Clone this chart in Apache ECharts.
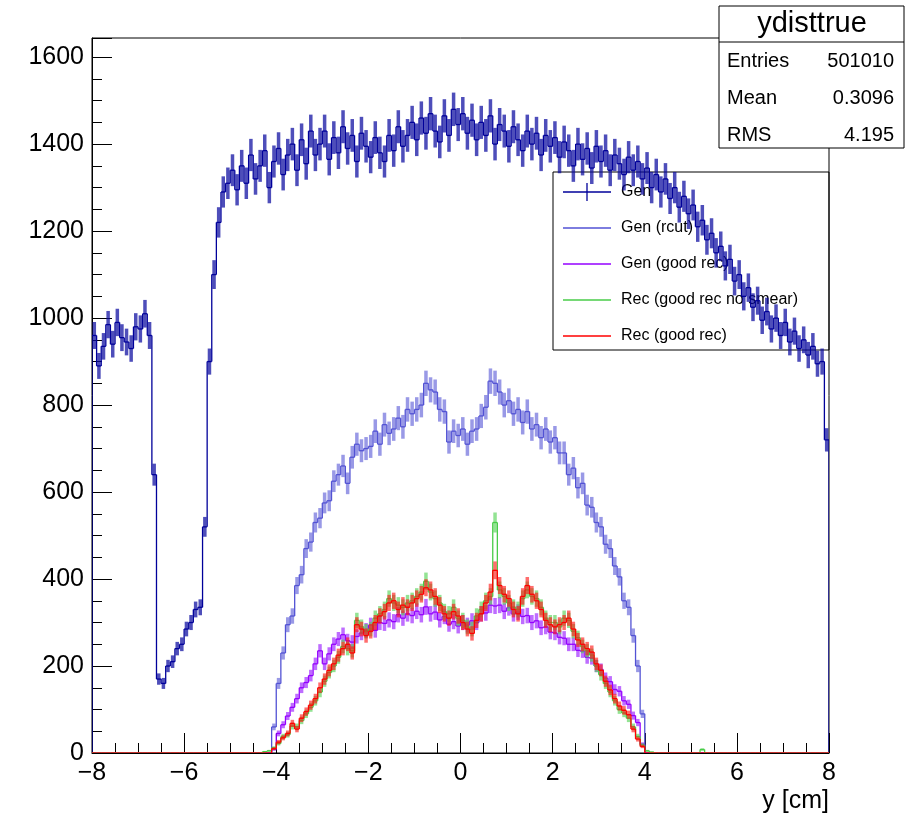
<!DOCTYPE html>
<html>
<head>
<meta charset="utf-8">
<script src="https://cdn.jsdelivr.net/npm/echarts@6/dist/echarts.min.js"></script>
<style>
  html, body { margin: 0; padding: 0; background: #fff; }
  #chart { width: 907px; height: 821px; }
</style>
</head>
<body>
<div id="chart"></div>
<script>
const FONT = '"Liberation Sans", Arial, Helvetica, sans-serif';

// 160 bins of 0.1 cm from -8 to 8
const X_MIN = -8;
const X_MAX = 8;
const BIN_WIDTH = 0.1;
const Y_MAX = 1644;

const genValues = [
  960, 890, 935, 985, 940, 990, 955, 945, 930, 980,
  975, 1010, 960, 640, 170, 160, 200, 210, 240, 250,
  285, 300, 330, 335, 520, 900, 1100, 1220, 1290, 1310,
  1340, 1295, 1350, 1310, 1375, 1320, 1350, 1385, 1300, 1360,
  1390, 1330, 1375, 1400, 1340, 1410, 1355, 1430, 1375, 1400,
  1430, 1365, 1415, 1380, 1440, 1390, 1420, 1360, 1425, 1395,
  1370, 1415, 1380, 1360, 1420, 1385, 1440, 1395, 1420, 1450,
  1410, 1460, 1425, 1470, 1430, 1405, 1465, 1420, 1480, 1445,
  1470, 1425, 1455, 1410, 1450, 1420, 1465, 1400, 1445, 1430,
  1395, 1440, 1410, 1385, 1430, 1400, 1425, 1375, 1420, 1395,
  1415, 1370, 1405, 1385, 1350, 1400, 1365, 1390, 1345, 1395,
  1360, 1385, 1340, 1375, 1355, 1330, 1370, 1340, 1360, 1320,
  1345, 1300, 1330, 1290, 1320, 1275, 1300, 1255, 1280, 1240,
  1260, 1210, 1225, 1180, 1195, 1150, 1165, 1120, 1135, 1085,
  1100, 1050, 1070, 1025, 1040, 995, 1015, 975, 1000, 960,
  990, 945, 970, 930, 950, 915, 935, 895, 900, 720
];

const genRcutValues = [
  0, 0, 0, 0, 0, 0, 0, 0, 0, 0,
  0, 0, 0, 0, 0, 0, 0, 0, 0, 0,
  0, 0, 0, 0, 0, 0, 0, 0, 0, 0,
  0, 0, 0, 0, 0, 0, 0, 0, 0,
  60, 160, 230, 295, 315, 385, 410, 470, 485, 530,
  540, 575, 580, 625, 640, 660, 620, 680, 710, 695,
  700, 705, 740, 710, 755, 735, 745, 770, 750, 790,
  780, 790, 800, 850, 835, 830, 790, 785, 715, 740,
  730, 745, 710, 740, 745, 775, 795, 855, 850, 830,
  800, 810, 780, 790, 760, 785, 745, 755, 725, 745,
  715, 725, 690, 690, 640, 655, 610, 620, 570, 565,
  530, 520, 480, 470, 430, 405, 350, 335, 270, 200,
  90, 0,
  0, 0, 0, 0, 0, 0, 0, 0, 0, 0,
  0, 0, 0, 0, 0, 0, 0, 0, 0, 0,
  0, 0, 0, 0, 0, 0, 0, 0, 0, 0,
  0, 0, 0, 0, 0, 0, 0, 0, 0
];

const genGoodRecValues = [
  0, 0, 0, 0, 0, 0, 0, 0, 0, 0,
  0, 0, 0, 0, 0, 0, 0, 0, 0, 0,
  0, 0, 0, 0, 0, 0, 0, 0, 0, 0,
  0, 0, 0, 0, 0, 0, 0, 0, 0,
  8, 45, 65, 85, 105, 125, 150, 162, 178, 205,
  235, 205, 228, 250, 262, 272, 258, 255, 268, 276,
  282, 294, 282, 300, 298, 306, 302, 318, 310, 320,
  316, 326, 318, 336, 320, 324, 306, 314, 296, 302,
  292, 300, 294, 304, 300, 320, 322, 340, 338, 340,
  326, 334, 320, 324, 314, 316, 300, 304, 288, 290,
  278, 276, 266, 264, 250, 250, 236, 234, 220, 218,
  200, 192, 172, 164, 146, 142, 120, 112, 86, 70,
  20, 0,
  0, 0, 0, 0, 0, 0, 0, 0, 0, 0,
  0, 0, 0, 0, 0, 0, 0, 0, 0, 0,
  0, 0, 0, 0, 0, 0, 0, 0, 0, 0,
  0, 0, 0, 0, 0, 0, 0, 0, 0
];

const recNoSmearValues = [
  0, 0, 0, 0, 0, 0, 0, 0, 0, 0,
  0, 0, 0, 0, 0, 0, 0, 0, 0, 0,
  0, 0, 0, 0, 0, 0, 0, 0, 0, 0,
  0, 0, 0, 0, 0, 0, 0, 3, 5,
  12, 22, 38, 42, 62, 60, 75, 90, 105, 120,
  140, 165, 185, 200, 220, 245, 240, 235, 305, 290,
  280, 285, 310, 320, 330, 355, 345, 340, 335, 345,
  350, 360, 370, 395, 370, 355, 345, 325, 320, 335,
  310, 305, 290, 285, 315, 330, 350, 360, 530, 375,
  360, 345, 335, 330, 355, 375, 360, 355, 335, 310,
  300, 300, 290, 310, 305, 280, 265, 245, 235, 225,
  200, 180, 160, 140, 120, 100, 92, 80, 60, 38,
  18, 5,
  2, 0, 0, 0, 0, 0, 0, 0, 0, 0,
  0, 8, 0, 0, 0, 0, 0, 0, 0, 0,
  0, 0, 0, 0, 0, 0, 0, 0, 0, 0,
  0, 0, 0, 0, 0, 0, 0, 0, 0
];

const recGoodRecValues = [
  0, 0, 0, 0, 0, 0, 0, 0, 0, 0,
  0, 0, 0, 0, 0, 0, 0, 0, 0, 0,
  0, 0, 0, 0, 0, 0, 0, 0, 0, 0,
  0, 0, 0, 0, 0, 0, 0, 0, 0,
  10, 25, 35, 45, 68, 55, 80, 95, 110, 125,
  150, 170, 190, 205, 225, 240, 250, 230, 295, 285,
  270, 280, 300, 315, 325, 345, 350, 330, 340, 335,
  345, 355, 365, 380, 375, 360, 340, 320, 310, 325,
  315, 300, 285, 275, 305, 320, 345, 370, 420, 385,
  365, 355, 330, 320, 360, 385, 365, 350, 330, 305,
  295, 290, 295, 300, 310, 285, 260, 250, 240, 232,
  205, 190, 165, 145, 125, 108, 98, 88, 55, 32,
  15, 0,
  0, 0, 0, 0, 0, 0, 0, 0, 0, 0,
  0, 0, 0, 0, 0, 0, 0, 0, 0, 0,
  0, 0, 0, 0, 0, 0, 0, 0, 0, 0,
  0, 0, 0, 0, 0, 0, 0, 0, 0
];

const statsTitle = 'ydisttrue';
const statsLabels = ['Entries', 'Mean', 'RMS'];
const statsValues = ['501010', '0.3096', '4.195'];

const HISTS = [
  { name: 'Gen', values: genValues, color: '#00009a', bar: 'rgba(10,10,160,0.72)', marker: true },
  { name: 'Gen (rcut)', values: genRcutValues, color: '#5252d4', bar: 'rgba(90,90,215,0.62)' },
  { name: 'Gen (good rec)', values: genGoodRecValues, color: '#9400ff', bar: 'rgba(150,20,255,0.62)' },
  { name: 'Rec (good rec no smear)', values: recNoSmearValues, color: '#48cc48', bar: 'rgba(80,210,80,0.62)' },
  { name: 'Rec (good rec)', values: recGoodRecValues, color: '#ff0000', bar: 'rgba(255,20,20,0.62)' },
];

function seg(p, q, stroke, width) {
  return {
    type: 'line',
    shape: { x1: p[0], y1: p[1], x2: q[0], y2: q[1] },
    style: { stroke, lineWidth: width },
  };
}

// [centre, content, previous content, last-bin flag]
function binData(values) {
  return values.map((v, i) => [
    X_MIN + (i + 0.5) * BIN_WIDTH,
    v,
    i ? values[i - 1] : 0,
    i === values.length - 1 ? 1 : 0,
  ]);
}

// ROOT-like histogram: bin-wide step, vertical joins and sqrt(N) error bars
function histSeries(h) {
  return {
    type: 'custom',
    name: h.name,
    clip: true,
    silent: true,
    data: binData(h.values),
    renderItem(params, api) {
      const c = api.value(0);
      const v = api.value(1);
      const prev = api.value(2);
      const half = BIN_WIDTH / 2;
      const a = api.coord([c - half, v]);
      const b = api.coord([c + half, v]);
      const p = api.coord([c - half, prev]);
      const err = Math.sqrt(v);
      const children = [];
      if (err > 0) {
        children.push(seg(api.coord([c, v + err]), api.coord([c, Math.max(0, v - err)]), h.bar, 3.5));
      }
      children.push(seg(p, a, h.color, 1.3));
      children.push(seg(a, b, h.color, 1.3));
      if (api.value(3)) children.push(seg(b, api.coord([c + half, 0]), h.color, 1.3));
      return { type: 'group', children };
    },
  };
}

const legendTop = 192;
const legendStep = 36;
const legendGraphics = [
  {
    type: 'rect', z: 1,
    shape: { x: 553, y: 172, width: 276, height: 178 },
    style: { fill: 'none', stroke: '#000', lineWidth: 1 },
  },
];
HISTS.forEach((h, i) => {
  const y = legendTop + i * legendStep;
  legendGraphics.push({
    type: 'line', z: 1,
    shape: { x1: 563, y1: y, x2: 611, y2: y },
    style: { stroke: h.color, lineWidth: 1.3 },
  });
  if (h.marker) {
    legendGraphics.push({
      type: 'line', z: 1,
      shape: { x1: 587, y1: y - 9, x2: 587, y2: y + 9 },
      style: { stroke: h.color, lineWidth: 1.3 },
    });
  }
  legendGraphics.push({
    type: 'text', z: 1, x: 621, y,
    style: { text: h.name, font: '16px ' + FONT, fill: '#000', verticalAlign: 'middle' },
  });
});

const statsGraphics = [
  {
    type: 'rect', z: 100,
    shape: { x: 719, y: 6, width: 185, height: 142 },
    style: { fill: '#fff', stroke: '#000', lineWidth: 1 },
  },
  {
    type: 'line', z: 101,
    shape: { x1: 719, y1: 42, x2: 904, y2: 42 },
    style: { stroke: '#000', lineWidth: 1 },
  },
  {
    type: 'text', z: 101, x: 812, y: 24,
    style: { text: statsTitle, font: '29px ' + FONT, fill: '#000', align: 'center', verticalAlign: 'middle' },
  },
];
statsLabels.forEach((label, i) => {
  const y = 61 + i * 37;
  statsGraphics.push({
    type: 'text', z: 101, x: 727, y,
    style: { text: label, font: '20px ' + FONT, fill: '#000', verticalAlign: 'middle' },
  });
  statsGraphics.push({
    type: 'text', z: 101, x: 894, y,
    style: { text: statsValues[i], font: '20px ' + FONT, fill: '#000', align: 'right', verticalAlign: 'middle' },
  });
});

const chart = echarts.init(document.getElementById('chart'), null, { renderer: 'canvas' });

const tickLine = { color: '#000', width: 1 };

chart.setOption({
  animation: false,
  backgroundColor: '#fff',
  textStyle: { fontFamily: FONT },
  grid: {
    left: 92, right: 78, top: 38, bottom: 68,
    show: true, borderColor: '#000', borderWidth: 1, backgroundColor: 'transparent',
  },
  xAxis: {
    type: 'value',
    min: X_MIN, max: X_MAX, interval: 2,
    axisLine: { onZero: false, lineStyle: tickLine },
    axisTick: { inside: true, length: 20, lineStyle: tickLine },
    minorTick: { show: true, splitNumber: 4, length: 10, lineStyle: tickLine },
    splitLine: { show: false },
    axisLabel: {
      color: '#000', fontSize: 25, fontFamily: FONT, margin: 8,
      formatter: v => String(v).replace('-', '\u2212'),
    },
  },
  yAxis: [
    {
      // minor ticks every 50
      type: 'value',
      min: 0, max: Y_MAX, interval: 50,
      position: 'left',
      axisLine: { onZero: false, lineStyle: tickLine },
      axisTick: { inside: true, length: 10, lineStyle: tickLine },
      axisLabel: { show: false },
      splitLine: { show: false },
    },
    {
      type: 'value',
      min: 0, max: Y_MAX, interval: 200,
      position: 'left',
      axisLine: { show: false, onZero: false },
      axisTick: { inside: true, length: 20, lineStyle: tickLine },
      splitLine: { show: false },
      axisLabel: {
        color: '#000', fontSize: 25, fontFamily: FONT, margin: 8,
        formatter: v => (v % 200 === 0 ? String(v) : ''),
      },
    },
  ],
  graphic: [
    ...legendGraphics,
    ...statsGraphics,
    {
      type: 'text', z: 10, x: 829, y: 801,
      style: { text: 'y [cm]', font: '25px ' + FONT, fill: '#000', align: 'right', verticalAlign: 'middle' },
    },
  ],
  series: HISTS.map(histSeries),
});
</script>
</body>
</html>
